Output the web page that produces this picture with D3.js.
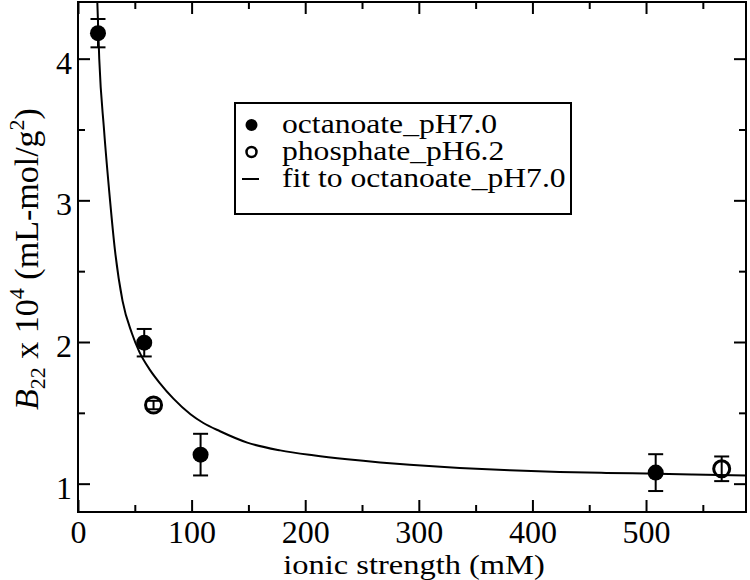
<!DOCTYPE html>
<html><head><meta charset="utf-8">
<script src="https://cdn.jsdelivr.net/npm/d3@7"></script>
<style>body{margin:0;background:#fff}</style>
</head><body>
<svg id="c" width="750" height="580"></svg>
<script>
// ---- data ----
const octX = [17.6, 58.3, 107.9, 508.5];
const octY = [4.18, 1.995, 1.205, 1.078];
const octErr = [0.10, 0.097, 0.147, 0.13];
const phosX = [66.5, 566.6];
const phosY = [1.555, 1.105];
const phosErr = [0.03, 0.087];
const fitX = [17.0, 18.7, 22.9, 28.2, 32.5, 39.2, 47.5, 54.0, 63.6, 72.0, 84.0, 99.0, 110.0, 125.0, 149.0, 178.0, 207.0, 237.0, 266.0, 292.0, 336.0, 380.0, 424.0, 465.0, 500.0, 541.0, 588.0];
const fitY = [4.40, 4.00, 3.50, 3.00, 2.65, 2.29, 2.06, 1.93, 1.80, 1.71, 1.60, 1.49, 1.43, 1.37, 1.29, 1.235, 1.20, 1.172, 1.150, 1.134, 1.111, 1.094, 1.083, 1.076, 1.071, 1.065, 1.058];
const xTicks = [0, 100, 200, 300, 400, 500];
const xMinor = [50, 150, 250, 350, 450, 550];
const yTicks = [1, 2, 3, 4];
const yMinor = [1.5, 2.5, 3.5];
const legendLabels = ["octanoate_pH7.0", "phosphate_pH6.2", "fit to octanoate_pH7.0"];
const xLabel = "ionic strength (mM)";

// ---- layout ----
const L = 78, R = 746, T = 2, B = 512;
const FONT = "'Liberation Serif','Times New Roman',serif";
const svg = d3.select("#c");
const x = d3.scaleLinear().domain([0, 588]).range([L, R]);
const y = d3.scaleLinear().domain([0.8, 4.4]).range([B, T]);

svg.append("defs").append("clipPath").attr("id", "clip")
  .append("rect").attr("x", L).attr("y", T).attr("width", R - L).attr("height", B - T);

function styleAxis(g) {
  g.select(".domain").remove();
  g.selectAll("line").attr("stroke", "#000").attr("stroke-width", 2);
}
// bottom
svg.append("g").attr("transform", `translate(0,${B})`)
  .call(d3.axisBottom(x).tickValues(xTicks).tickSize(-12).tickPadding(0).tickFormat(d3.format("d")))
  .call(styleAxis)
  .call(g => g.selectAll("text").attr("y", 31).attr("dy", 0).attr("font-size", 32).attr("font-family", FONT).attr("fill", "#000"));
svg.append("g").attr("transform", `translate(0,${B})`)
  .call(d3.axisBottom(x).tickValues(xMinor).tickSize(-7).tickFormat(""))
  .call(styleAxis);
// top
svg.append("g").attr("transform", `translate(0,${T})`)
  .call(d3.axisTop(x).tickValues(xTicks).tickSize(-12).tickFormat(""))
  .call(styleAxis);
svg.append("g").attr("transform", `translate(0,${T})`)
  .call(d3.axisTop(x).tickValues(xMinor).tickSize(-7).tickFormat(""))
  .call(styleAxis);
// left
svg.append("g").attr("transform", `translate(${L},0)`)
  .call(d3.axisLeft(y).tickValues(yTicks).tickSize(-12).tickPadding(0).tickFormat(d3.format("d")))
  .call(styleAxis)
  .call(g => g.selectAll("text").attr("x", -6).attr("dy", "0.45em").attr("font-size", 32).attr("font-family", FONT).attr("fill", "#000"));
svg.append("g").attr("transform", `translate(${L},0)`)
  .call(d3.axisLeft(y).tickValues(yMinor).tickSize(-7).tickFormat(""))
  .call(styleAxis);
// right
svg.append("g").attr("transform", `translate(${R},0)`)
  .call(d3.axisRight(y).tickValues(yTicks).tickSize(-12).tickFormat(""))
  .call(styleAxis);
svg.append("g").attr("transform", `translate(${R},0)`)
  .call(d3.axisRight(y).tickValues(yMinor).tickSize(-7).tickFormat(""))
  .call(styleAxis);

// frame
svg.append("rect").attr("x", L).attr("y", T).attr("width", R - L).attr("height", B - T)
  .attr("fill", "none").attr("stroke", "#000").attr("stroke-width", 2);

// fit curve
const fitData = fitX.map((v, i) => [v, fitY[i]]);
svg.append("path").datum(fitData).attr("clip-path", "url(#clip)")
  .attr("d", d3.line().x(d => x(d[0])).y(d => y(d[1])).curve(d3.curveMonotoneX))
  .attr("fill", "none").attr("stroke", "#000").attr("stroke-width", 2);

// error bars
function errBars(xs, ys, es) {
  const g = svg.append("g").attr("stroke", "#000").attr("stroke-width", 2);
  xs.forEach((v, i) => {
    const cx = x(v), y1 = y(ys[i] + es[i]), y2 = y(ys[i] - es[i]);
    g.append("line").attr("x1", cx).attr("x2", cx).attr("y1", y1).attr("y2", y2);
    g.append("line").attr("x1", cx - 7.5).attr("x2", cx + 7.5).attr("y1", y1).attr("y2", y1);
    g.append("line").attr("x1", cx - 7.5).attr("x2", cx + 7.5).attr("y1", y2).attr("y2", y2);
  });
}
errBars(octX, octY, octErr);
svg.append("g").selectAll("circle").data(octX).join("circle")
  .attr("cx", d => x(d)).attr("cy", (d, i) => y(octY[i])).attr("r", 8).attr("fill", "#000");
svg.append("g").selectAll("circle").data(phosX).join("circle")
  .attr("cx", d => x(d)).attr("cy", (d, i) => y(phosY[i])).attr("r", 8)
  .attr("fill", "none").attr("stroke", "#000").attr("stroke-width", 3);
errBars(phosX, phosY, phosErr);

// axis labels
svg.append("text").attr("transform", `translate(${(L + R) / 2 + 2},574) scale(1.16,1)`)
  .attr("text-anchor", "middle")
  .attr("font-family", FONT).attr("font-size", 28).text(xLabel);

const yl = svg.append("text").attr("transform", "translate(38,259) rotate(-90)")
  .attr("text-anchor", "middle").attr("font-family", FONT).attr("font-size", 34);
yl.append("tspan").attr("font-style", "italic").text("B");
yl.append("tspan").attr("font-size", 22).attr("dy", 7).text("22");
yl.append("tspan").attr("dy", -7).text(" x 10");
yl.append("tspan").attr("font-size", 22).attr("dy", -14).text("4");
yl.append("tspan").attr("dy", 14).text(" (mL-mol/g");
yl.append("tspan").attr("font-size", 22).attr("dy", -14).text("2");
yl.append("tspan").attr("dy", 14).text(")");

// legend
const lg = svg.append("g");
lg.append("rect").attr("x", 235).attr("y", 103).attr("width", 336).attr("height", 111)
  .attr("fill", "#fff").attr("stroke", "#000").attr("stroke-width", 2);
const rowY = [125, 152, 179];
lg.append("circle").attr("cx", 251.5).attr("cy", rowY[0]).attr("r", 6).attr("fill", "#000");
lg.append("circle").attr("cx", 251.5).attr("cy", rowY[1]).attr("r", 5).attr("fill", "none").attr("stroke", "#000").attr("stroke-width", 2.5);
lg.append("line").attr("x1", 242).attr("x2", 259).attr("y1", rowY[2]).attr("y2", rowY[2]).attr("stroke", "#000").attr("stroke-width", 2);
lg.selectAll("text.lt").data(legendLabels).join("text").attr("class", "lt")
  .attr("transform", (d, i) => `translate(282,${rowY[i] + 8}) scale(1.13,1)`)
  .attr("font-family", FONT).attr("font-size", 28).text(d => d);
</script>
</body></html>
